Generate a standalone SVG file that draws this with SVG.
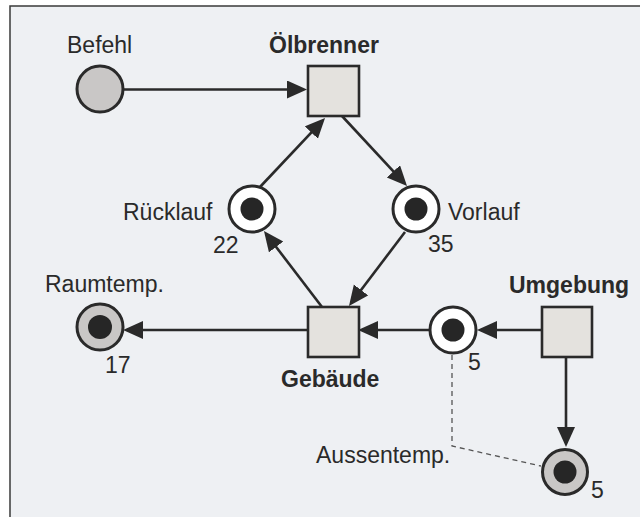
<svg xmlns="http://www.w3.org/2000/svg" width="640" height="517" viewBox="0 0 640 517">
<defs>
<style>
text{font-family:"Liberation Sans",Arial,sans-serif;font-size:23px;fill:#2a2a2a}
.b{font-weight:bold}
.arc{stroke:#2a2a2a;stroke-width:2.6;fill:none;marker-end:url(#ah)}
.pw{fill:#ffffff;stroke:#2a2a2a;stroke-width:3}
.pg{fill:#c9c7c6;stroke:#2a2a2a;stroke-width:3}
.tok{fill:#262626}
.tr{fill:#e4e2de;stroke:#2a2a2a;stroke-width:2.6}
.dash{stroke:#555;stroke-width:1.3;fill:none;stroke-dasharray:5 4}
</style>
<marker id="ah" markerUnits="userSpaceOnUse" markerWidth="22" markerHeight="20" refX="16" refY="9" orient="auto">
<path d="M0,0 L20,9 L0,18 z" fill="#2a2a2a"/>
</marker>
</defs>
<rect x="0" y="0" width="640" height="517" fill="#ffffff"/>
<rect x="10" y="6" width="640" height="520" fill="#eef0f3"/>
<path d="M10,517 L10,6 L640,6" fill="none" stroke="#3a3a3a" stroke-width="1.5"/>

<g id="connectors">
<line class="arc" x1="123" y1="89.5" x2="303" y2="89.5"/>
<line class="arc" x1="260" y1="187" x2="322.3" y2="120.9"/>
<line class="arc" x1="342" y1="116" x2="404.3" y2="183.1"/>
<line class="arc" x1="405" y1="232" x2="351.4" y2="302.8"/>
<line class="arc" x1="322" y1="307" x2="266.4" y2="234.2"/>
<line class="arc" x1="308" y1="330" x2="127" y2="330"/>
<line class="arc" x1="429" y1="330" x2="362" y2="330"/>
<line class="arc" x1="542" y1="330" x2="481" y2="330"/>
<line class="arc" x1="566" y1="357" x2="566" y2="443"/>
<polyline class="dash" points="452,355 452,446 541,466"/>
</g>

<g id="befehl">
<circle class="pg" cx="100" cy="89" r="23"/>
<text x="67" y="53">Befehl</text>
</g>
<g id="oelbrenner">
<rect class="tr" x="308" y="66" width="51" height="50"/>
<text class="b" x="269" y="53">Ölbrenner</text>
</g>
<g id="ruecklauf">
<circle class="pw" cx="252" cy="209" r="23"/>
<circle class="tok" cx="252" cy="209" r="11.5"/>
<text x="123" y="220">Rücklauf</text>
<text x="213" y="253">22</text>
</g>
<g id="vorlauf">
<circle class="pw" cx="416" cy="209" r="23"/>
<circle class="tok" cx="416" cy="209" r="11.5"/>
<text x="448" y="220">Vorlauf</text>
<text x="428" y="252">35</text>
</g>
<g id="gebaeude">
<rect class="tr" x="308" y="307" width="51" height="50"/>
<text class="b" x="281" y="387">Gebäude</text>
</g>
<g id="raumtemp">
<circle class="pg" cx="100" cy="327" r="23"/>
<circle class="tok" cx="100" cy="327" r="12"/>
<text x="45" y="292">Raumtemp.</text>
<text x="105" y="373">17</text>
</g>
<g id="aussen-place">
<circle class="pw" cx="453" cy="330" r="23"/>
<circle class="tok" cx="453" cy="330" r="11.5"/>
<text x="468" y="370">5</text>
</g>
<g id="umgebung">
<rect class="tr" x="542" y="307" width="50" height="50"/>
<text class="b" x="509" y="293">Umgebung</text>
</g>
<g id="aussentemp">
<circle class="pg" cx="565" cy="472" r="22.5"/>
<circle class="tok" cx="565" cy="472" r="11.5"/>
<text x="591" y="498">5</text>
<text x="316" y="463">Aussentemp.</text>
</g>
</svg>
